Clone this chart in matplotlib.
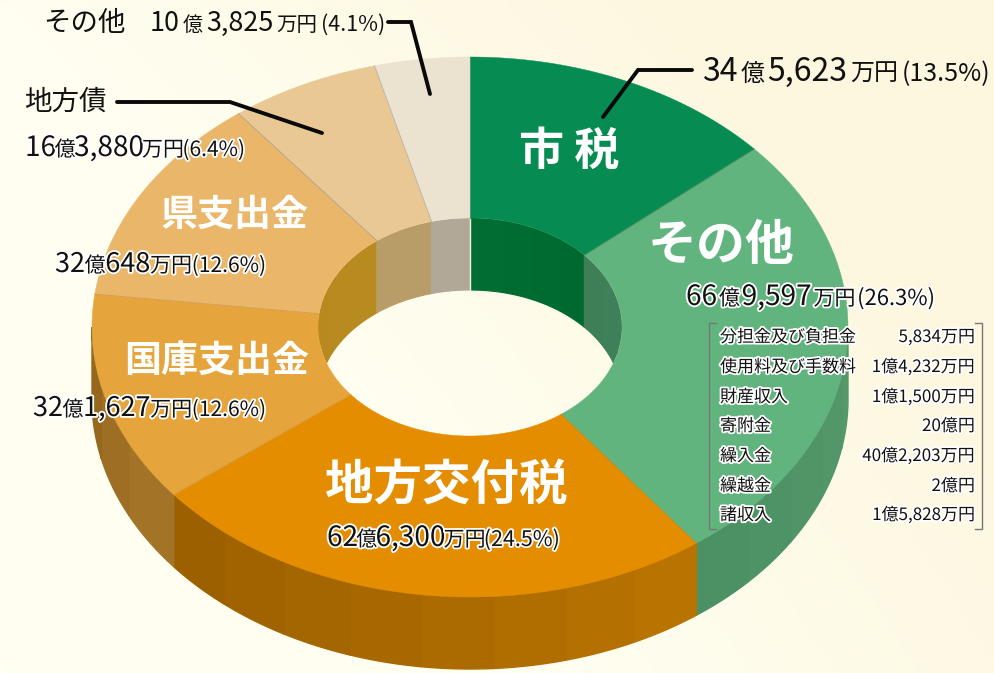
import numpy as np
import matplotlib
matplotlib.use("Agg")
import matplotlib.pyplot as plt
import matplotlib.patheffects as pe
from matplotlib.patches import Ellipse
from matplotlib.colors import to_rgb, LinearSegmentedColormap

plt.rcParams['font.family'] = ['Noto Sans CJK JP', 'DejaVu Sans']

# data (万円), clockwise from the top
categories = ['市税', 'その他', '地方交付税', '国庫支出金', '県支出金', '地方債', 'その他']
amounts = [345623, 669597, 626300, 321627, 320648, 163880, 103825]
detail_names = ['分担金及び負担金', '使用料及び手数料', '財産収入', '寄附金', '繰入金', '繰越金', '諸収入']
detail_values = ['5,834万円', '1億4,232万円', '1億1,500万円', '20億円', '40億2,203万円', '2億円', '1億5,828万円']

# styles
top_colors = ['#068c52', '#62b47e', '#e48d00', '#e6a53c', '#e9b66a', '#eac894', '#ece2d0']
wall_colors = [('#066a30', '#066a30'), ('#4b9062', '#569a6c'), ('#9a5f00', '#ba7400'),
               ('#93651c', '#a6772a'), ('#b98b20', '#b98b20'), ('#b99d68', '#b59a66'), ('#b0a898', '#b0a898')]
inner_colors = [('#006f32', '#00682f'), ('#3d7f58', '#417f5a'), ('#b98a1c', '#b98a1c'),
                ('#b4861e', '#bb8e20'), ('#b8881e', '#b78c20'), ('#bca06c', '#b59a66'), ('#b1a898', '#b0a898')]
edge_colors = ['#3f9d70', '#3f8a5c', '#c98a10', '#d69a38', '#d4a050', '#b5a58a', '#bdb4a4']

CX, CY, RX, RY = 470, 327, 378, 270
IRX, IRY = 152, 109
DEPTH = 72

fig = plt.figure(figsize=(9.95, 6.73), dpi=100)
ax = fig.add_axes([0, 0, 1, 1])
ax.set_xlim(0, 995)
ax.set_ylim(673, 0)
ax.axis('off')

# background
bg = LinearSegmentedColormap.from_list('bg', ['#fffff2', '#fffef0', '#fdf7df'])
xx, yy = np.meshgrid(np.linspace(0, 1, 200), np.linspace(0, 1, 140))
ax.imshow(np.clip(0.7 * xx + 0.5 * (1 - yy) + 0.15 * xx * yy, 0, 1), cmap=bg, vmin=0, vmax=1,
          extent=[0, 995, 673, 0], aspect='auto', zorder=0)


def pt(theta, rx, ry, dy=0):
    return CX + rx * np.sin(theta), CY - ry * np.cos(theta) + dy


def mix(pair, t):
    a, b = map(np.array, map(to_rgb, pair))
    return tuple(a + (b - a) * t)


fractions = np.array(amounts) / np.sum(amounts)
edges = np.concatenate([[0], np.cumsum(fractions)]) * 2 * np.pi

# outer wall (front half only)
for i in range(len(amounts)):
    a, b = max(edges[i], np.pi / 2), min(edges[i + 1], 3 * np.pi / 2)
    if a >= b:
        continue
    n = max(int((b - a) / np.radians(10)), 1)
    steps = np.linspace(a, b, n + 1)
    for j in range(n):
        t = np.linspace(steps[j], steps[j + 1], 16)
        x, y = pt(t, RX, RY)
        x2, y2 = pt(t[::-1], RX, RY, DEPTH)
        c = mix(wall_colors[i], 1 - (j + 0.5) / n)
        ax.fill(np.r_[x, x2], np.r_[y, y2], fc=c, ec=c, lw=1.0, zorder=2)

# inner wall (far half only), clipped by the hole
hole = Ellipse((CX, CY), 2 * IRX, 2 * IRY, transform=ax.transData, fc='none', ec='none')
ax.add_patch(hole)
for i in range(len(amounts)):
    for lo, hi in [(0, np.pi / 2), (3 * np.pi / 2, 2 * np.pi)]:
        a, b = max(edges[i], lo), min(edges[i + 1], hi)
        if a >= b:
            continue
        n = max(int((b - a) / np.radians(12)), 1)
        steps = np.linspace(a, b, n + 1)
        for j in range(n):
            t = np.linspace(steps[j], steps[j + 1], 16)
            x, y = pt(t, IRX, IRY)
            x2, y2 = pt(t[::-1], IRX, IRY, DEPTH)
            c = mix(inner_colors[i], (j + 0.5) / n)
            p = ax.fill(np.r_[x, x2], np.r_[y, y2], fc=c, ec=c, lw=0.8, zorder=3)[0]
            p.set_clip_path(hole)
# white seam at the start of the first slice
ax.plot([CX, CX], [CY - IRY, CY - IRY + DEPTH], color='#f4f0e4', lw=1, zorder=3.5)

# top face
for i in range(len(amounts)):
    t = np.linspace(edges[i], edges[i + 1], 200)
    xo, yo = pt(t, RX, RY)
    xi, yi = pt(t[::-1], IRX, IRY)
    ax.fill(np.r_[xo, xi], np.r_[yo, yi], color=top_colors[i], lw=0.3, zorder=4)
for i in range(len(amounts)):
    x0, y0 = pt(edges[i], IRX, IRY)
    x1, y1 = pt(edges[i], RX, RY)
    ax.plot([x0, x1], [y0, y1], color=edge_colors[i], lw=0.7, zorder=5)

# leader lines
for xs, ys in [([692, 638, 603], [70, 70, 117]),
               ([388, 411, 430], [22, 22, 94]),
               ([117, 230, 322], [102, 102, 133])]:
    ax.plot(xs, ys, color='#0a0a0a', lw=2.8, solid_joinstyle='miter', solid_capstyle='round', zorder=6)

px = 0.72
renderer = fig.canvas.get_renderer()
halo = [pe.withStroke(linewidth=2.6, foreground='white')]


def runs(x0, x1, base, parts, stroke=True):
    """Lay differently sized pieces along a baseline between x0 and x1."""
    items = []
    for s, size in parts:
        tx = ax.text(x0, base, s, fontsize=size * px, color='#111111', ha='left', va='baseline', zorder=8)
        items.append(tx)
    widths = [tx.get_window_extent(renderer).width for tx in items]
    gap = (x1 - x0 - sum(widths)) / max(len(items) - 1, 1)
    x = x0
    for tx, w in zip(items, widths):
        tx.set_x(x)
        if stroke:
            tx.set_path_effects(halo)
        x += w + gap


def big(x, y, s, size):
    ax.text(x, y, s, fontsize=size * px, color='white', fontweight='bold', ha='center', va='center', zorder=8)


big(569, 152, '市 税', 45)
big(721, 245, 'その他', 49)
big(446, 486, '地方交付税', 48.5)
big(217, 362, '国庫支出金', 37)
big(235, 215, '県支出金', 37)

runs(702, 990, 81, [('34', 32), ('億', 24), ('5,623', 32), ('万円', 24), ('(13.5%)', 25)], stroke=False)
ax.text(43, 31, 'その他', fontsize=27.5 * px, color='#111111', zorder=8, va='baseline')
runs(150, 385, 31, [('10', 27), ('億', 20), ('3,825', 27), ('万円', 20.5), ('(4.1%)', 21.5)], stroke=False)
ax.text(24, 110, '地方債', fontsize=27.5 * px, color='#111111', zorder=8, va='baseline')
runs(25, 245, 156, [('16', 28), ('億', 21), ('3,880', 28), ('万円', 21), ('(6.4%)', 21)])
runs(55, 266, 272, [('32', 27), ('億', 21), ('648', 27), ('万円', 21), ('(12.6%)', 21)])
runs(33, 266, 416, [('32', 27), ('億', 21), ('1,627', 27), ('万円', 21), ('(12.6%)', 21)])
runs(327, 560, 546, [('62', 28), ('億', 21), ('6,300', 28), ('万円', 21), ('(24.5%)', 21.5)])
runs(686, 935, 305, [('66', 28), ('億', 21), ('9,597', 28), ('万円', 21), ('(26.3%)', 22)])

# detail table
row_y = [337, 367, 397, 426, 456, 486, 515]
for y, name, val in zip(row_y, detail_names, detail_values):
    ax.text(720, y, name, fontsize=17 * px, color='#111111', ha='left', va='center', zorder=8, path_effects=halo)
    ax.text(975, y, val, fontsize=17 * px, color='#111111', ha='right', va='center', zorder=8, path_effects=halo)
ax.plot([716, 709, 709, 716], [323, 323, 529, 529], color='#777777', lw=1, zorder=7)
ax.plot([975, 982, 982, 975], [323, 323, 529, 529], color='#777777', lw=1, zorder=7)

fig.savefig('out.png', dpi=100)
